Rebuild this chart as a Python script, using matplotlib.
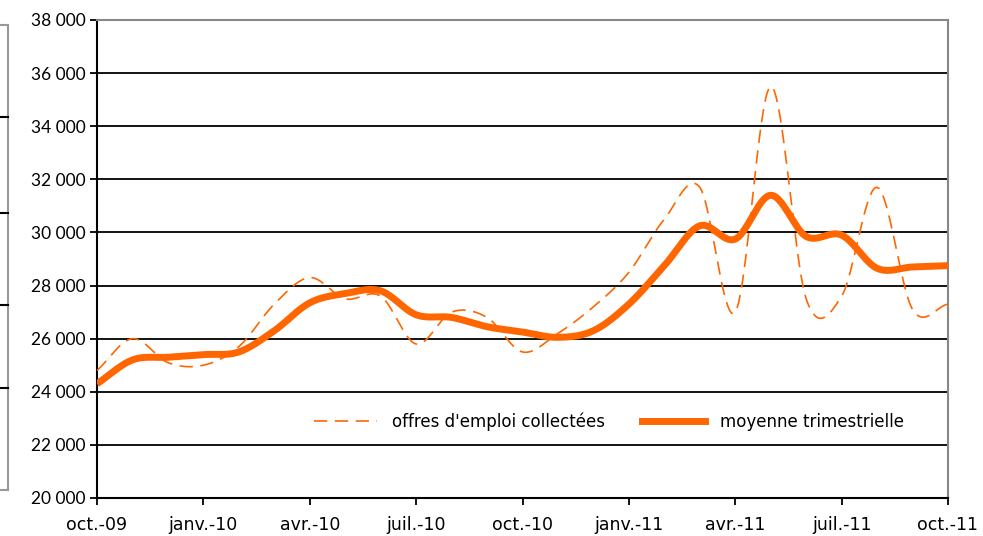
import numpy as np
import matplotlib.pyplot as plt
from matplotlib.lines import Line2D

# monthly series, oct.-09 .. oct.-11
months = list(range(25))
offres = [24800, 26000, 25100, 25000, 25700, 27300, 28300, 27500, 27600, 25800,
          27000, 26800, 25500, 26200, 27200, 28500, 30500, 31700, 27000, 35500,
          27500, 27600, 31700, 27100, 27300]
moyenne = [24300, 25200, 25300, 25400, 25500, 26300, 27350, 27700, 27800, 26900,
           26800, 26450, 26250, 26050, 26300, 27300, 28750, 30250, 29750, 31400,
           29850, 29900, 28650, 28700, 28750]
tick_labels = ['oct.-09', 'janv.-10', 'avr.-10', 'juil.-10', 'oct.-10',
               'janv.-11', 'avr.-11', 'juil.-11', 'oct.-11']
yticks = list(range(20000, 38001, 2000))

ORANGE = '#FF6600'


def smooth(x, y, n=20):
    # Catmull-Rom style curve, like the spreadsheet "smoothed line" option
    x = np.asarray(x, float)
    y = np.asarray(y, float)
    px = np.concatenate([[2 * x[0] - x[1]], x, [2 * x[-1] - x[-2]]])
    py = np.concatenate([[2 * y[0] - y[1]], y, [2 * y[-1] - y[-2]]])
    t = np.linspace(0, 1, n, endpoint=False)
    xs, ys = [], []
    for i in range(1, len(px) - 2):
        for p, out in ((px, xs), (py, ys)):
            p0, p1, p2, p3 = p[i - 1], p[i], p[i + 1], p[i + 2]
            c1 = p1 + (p2 - p0) / 6
            c2 = p2 - (p3 - p1) / 6
            out.extend((1 - t) ** 3 * p1 + 3 * (1 - t) ** 2 * t * c1
                       + 3 * (1 - t) * t ** 2 * c2 + t ** 3 * p2)
    xs.append(x[-1])
    ys.append(y[-1])
    return np.array(xs), np.array(ys)


plt.rcParams['font.family'] = ['DejaVu Sans']

fig = plt.figure(figsize=(9.83, 5.36), dpi=100)
ax = fig.add_axes([97 / 983, 1 - 498 / 536, 851 / 983, 478 / 536])

for yv in yticks:
    ax.axhline(yv, color='black', lw=1.3, zorder=1)

DASH = (8, 4.5)
sx, sy = smooth(months, offres)
ax.plot(sx, sy, color=ORANGE, lw=1.2, dashes=DASH, zorder=3)
mx, my = smooth(months, moyenne)
ax.plot(mx, my, color=ORANGE, lw=5, solid_capstyle='butt', zorder=4)

ax.set_xlim(0, 24)
ax.set_ylim(20000, 38000)
ax.set_xticks(range(0, 25, 3))
ax.set_xticklabels(tick_labels, fontsize=12.5)
ax.set_yticks(yticks)
ax.set_yticklabels([f"{v // 1000} {v % 1000:03d}" for v in yticks],
                   family='Lato', fontsize=12.5)
ax.tick_params(axis='both', length=5, width=1.3, color='black', pad=3)
ax.tick_params(axis='x', pad=8)

for side in ('left', 'bottom'):
    ax.spines[side].set_color('black')
    ax.spines[side].set_linewidth(1.5)
for side in ('top', 'right'):
    ax.spines[side].set_color('#888888')
    ax.spines[side].set_linewidth(1.5)

handles = [Line2D([], [], color=ORANGE, lw=1.2, dashes=DASH),
           Line2D([], [], color=ORANGE, lw=5)]
ax.legend(handles, ["offres d'emploi collectées", 'moyenne trimestrielle'],
          loc='center', bbox_to_anchor=(0.602, 0.159), ncol=2, frameon=False,
          fontsize=12, handlelength=3.8, handletextpad=0.9, columnspacing=2.2)

# leftover frame of a neighbouring chart at the left edge
fig.add_artist(Line2D([8 / 983, 8 / 983], [1 - 25 / 536, 1 - 490 / 536],
                      color='#999999', lw=1.5, transform=fig.transFigure))
for yy in (25, 490):
    fig.add_artist(Line2D([0, 8 / 983], [1 - yy / 536, 1 - yy / 536],
                          color='#999999', lw=1.5, transform=fig.transFigure))
for yy in (117, 213, 305, 388):
    fig.add_artist(Line2D([0, 8 / 983], [1 - yy / 536, 1 - yy / 536],
                          color='black', lw=1.5, transform=fig.transFigure))

fig.savefig('out.png', dpi=100)
